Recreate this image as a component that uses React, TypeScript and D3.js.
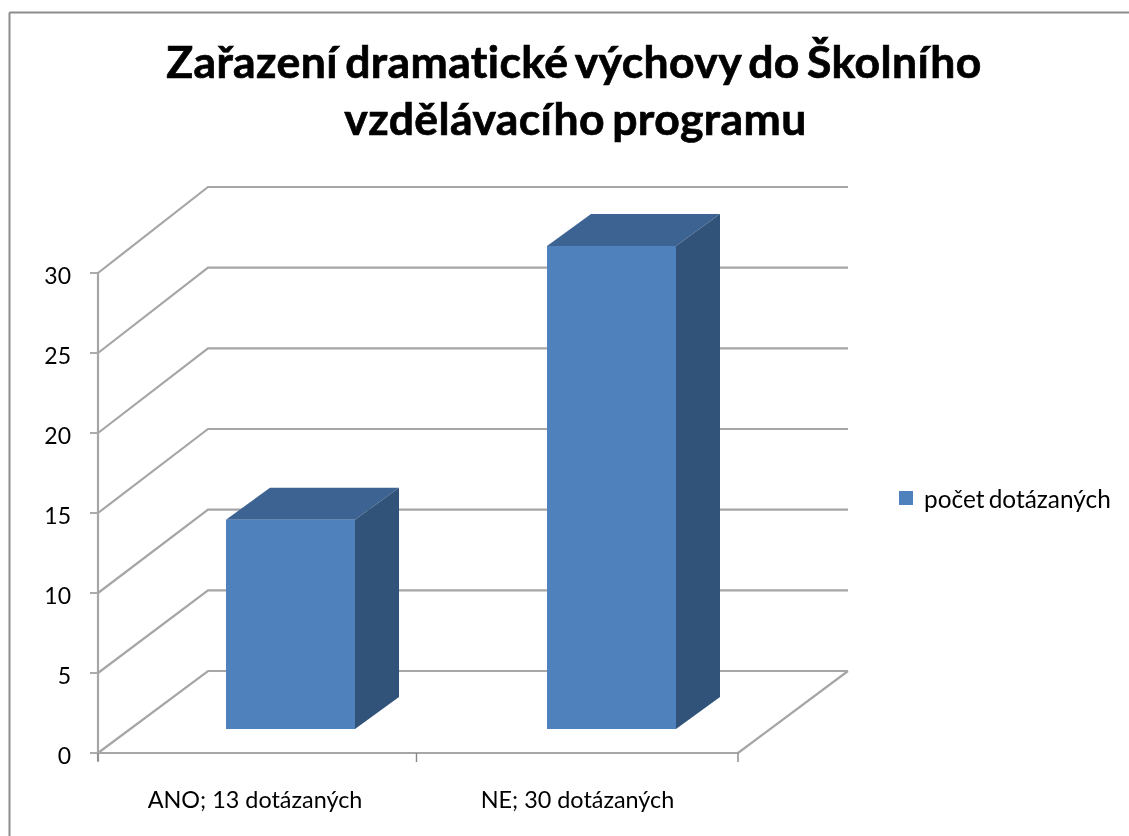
import React from "react";
import * as d3 from "d3";

const titleLines = ["Zařazení dramatické výchovy do Školního", "vzdělávacího programu"];
const categories = ["ANO; 13 dotázaných", "NE; 30 dotázaných"];
const values = [13, 30];
const yTicks = [0, 5, 10, 15, 20, 25, 30];
const seriesName = "počet dotázaných";

const FONT = "Lato, Carlito, Calibri, sans-serif";

export default function App() {
  const front = d3.scaleLinear().domain([0, 30]).range([753, 273]);
  const back = d3.scaleLinear().domain([0, 30]).range([671, 187]);
  const barY = d3.scaleLinear().domain([0, 30]).range([729, 246]);
  const x = d3.scaleBand().domain(categories).range([98, 738]);
  const depth = { dx: 110, dy: -82 };
  const barW = 129;
  const barOff = 128;
  const bd = { dx: 44, dy: -32 };
  const grid = "#a6a6a6";
  return (
    <svg width={1129} height={836} style={{ position: "absolute", left: 0, top: 0, background: "#fff" }}>
      <defs>
        <filter id="soft" x="-5%" y="-5%" width="110%" height="110%">
          <feGaussianBlur stdDeviation="0.6" />
        </filter>
        <filter id="softText" x="-5%" y="-20%" width="110%" height="140%">
          <feGaussianBlur stdDeviation="0.35" />
        </filter>
      </defs>
      <g filter="url(#soft)">
        <line x1={9.5} x2={1135} y1={12.5} y2={12.5} stroke="#8c8c8c" strokeWidth={2} />
        <line x1={9.5} x2={9.5} y1={12.5} y2={842} stroke="#8c8c8c" strokeWidth={2} />
        {yTicks.map((t) => (
          <g key={t}>
            <polyline
              points={`${98},${front(t)} ${98 + depth.dx},${back(t)} ${98 + depth.dx + 640},${back(t)}`}
              fill="none"
              stroke={grid}
              strokeWidth={2.2}
            />
            <line x1={90} x2={98} y1={front(t)} y2={front(t)} stroke="#888" strokeWidth={1.4} />
          </g>
        ))}
        <line x1={98} x2={98} y1={front(30)} y2={front(0) + 8} stroke={grid} strokeWidth={2.2} />
        <line x1={98} x2={738} y1={front(0)} y2={front(0)} stroke={grid} strokeWidth={2.2} />
        <line x1={738} x2={848} y1={front(0)} y2={back(0)} stroke={grid} strokeWidth={2.2} />
        {[...categories.map((c) => x(c) as number), 738].map((px) => (
          <line key={px} x1={px === 418 ? 416.5 : px} x2={px === 418 ? 416.5 : px} y1={753} y2={762} stroke="#888" strokeWidth={1.4} />
        ))}
        {categories.map((c, i) => {
          const l = (x(c) as number) + barOff + i;
          const r = l + barW;
          const t = barY(values[i]);
          const b = barY(0);
          return (
            <g key={c}>
              <polygon points={`${l},${t} ${l + bd.dx},${t + bd.dy} ${r + bd.dx},${t + bd.dy} ${r},${t}`} fill="#3e6492" />
              <polygon points={`${r},${t} ${r + bd.dx},${t + bd.dy} ${r + bd.dx},${b + bd.dy} ${r},${b}`} fill="#315279" />
              <rect x={l} y={t} width={barW} height={b - t} fill="#4f81bd" />
            </g>
          );
        })}
        <rect x={899} y={491} width={14} height={14} fill="#4f81bd" />
      </g>
      <g fontFamily={FONT} fill="#000" filter="url(#softText)">
        {titleLines.map((s, i) => (
          <text
            key={s}
            x={[574, 575.5][i]}
            y={[78, 135][i]}
            textAnchor="middle"
            fontSize={44.5}
            fontWeight={700}
            letterSpacing={0.4}
            wordSpacing={-4}
            stroke="#000"
            strokeWidth={0.7}
          >
            {s}
          </text>
        ))}
        {yTicks.map((t) => (
          <text key={t} x={71} y={front(t) + 11} textAnchor="end" fontSize={23}>
            {t}
          </text>
        ))}
        {categories.map((c, i) => (
          <text key={c} x={(x(c) as number) + 157 + i * 2.5} y={808} textAnchor="middle" fontSize={23.4}>
            {c}
          </text>
        ))}
        <text x={924} y={508} fontSize={24.4} wordSpacing={-2}>
          {seriesName}
        </text>
      </g>
    </svg>
  );
}
